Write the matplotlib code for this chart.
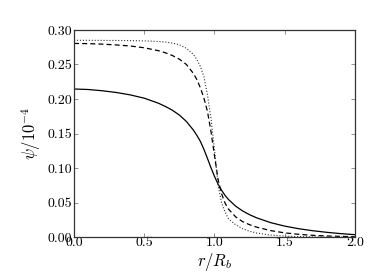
import numpy as np
import matplotlib
matplotlib.use("Agg")
import matplotlib.pyplot as plt

plt.rcParams['font.family'] = 'serif'
plt.rcParams['font.serif'] = ['cmr10']
plt.rcParams['mathtext.fontset'] = 'cm'
plt.rcParams['axes.formatter.use_mathtext'] = True

# radius in units of R_b
r = [0, 0.1, 0.2, 0.3, 0.4, 0.5, 0.6, 0.65, 0.7, 0.75, 0.8, 0.85, 0.875,
     0.9, 0.925, 0.95, 0.975, 1.0, 1.025, 1.05, 1.075, 1.1, 1.15, 1.2, 1.25,
     1.3, 1.4, 1.5, 1.6, 1.7, 1.8, 1.9, 2.0]

psi_solid = [0.2145, 0.2138, 0.2120, 0.2095, 0.2060, 0.2012, 0.1940, 0.1893,
             0.1838, 0.1768, 0.1675, 0.1550, 0.1472, 0.1385, 0.1270, 0.1140,
             0.1005, 0.0880, 0.0770, 0.0680, 0.0605, 0.0545, 0.0450, 0.0380,
             0.0325, 0.0280, 0.0210, 0.0160, 0.0122, 0.0093, 0.0070, 0.0051,
             0.0036]
psi_dashed = [0.2805, 0.2802, 0.2795, 0.2783, 0.2768, 0.2742, 0.2700, 0.2670,
              0.2630, 0.2577, 0.2500, 0.2370, 0.2280, 0.2160, 0.2010, 0.1820,
              0.1530, 0.1180, 0.0840, 0.0630, 0.0495, 0.0405, 0.0295, 0.0225,
              0.0180, 0.0145, 0.0095, 0.0062, 0.0041, 0.0027, 0.0017, 0.0011,
              0.0006]
psi_dotted = [0.2850, 0.2850, 0.2849, 0.2848, 0.2846, 0.2842, 0.2833, 0.2825,
              0.2810, 0.2785, 0.2735, 0.2645, 0.2570, 0.2470, 0.2320, 0.2060,
              0.1720, 0.1270, 0.0760, 0.0500, 0.0365, 0.0265, 0.0180, 0.0122,
              0.0085, 0.0060, 0.0030, 0.0015, 0.0008, 0.0004, 0.0002, 0.0001,
              0.0000]

xticks = [0.0, 0.5, 1.0, 1.5, 2.0]
yticks = [0.00, 0.05, 0.10, 0.15, 0.20, 0.25, 0.30]

fig = plt.figure(figsize=(3.74, 2.8), dpi=100)
ax = fig.add_axes([0.198, 0.153, 0.751, 0.740])

ax.plot(r, psi_solid, '-', color='k', lw=0.9)
ax.plot(r, psi_dashed, '--', color='k', lw=0.9, dashes=(4, 2.5))
ax.plot(r, psi_dotted, ':', color='0.2', lw=0.8)

ax.set_xlim(0, 2)
ax.set_ylim(0, 0.30)
ax.set_xticks(xticks)
ax.set_yticks(yticks)
ax.set_xticklabels(['%.1f' % v for v in xticks])
ax.set_yticklabels(['%.2f' % v for v in yticks])
ax.tick_params(direction='in', top=True, right=True, length=3, width=0.5,
               color='0.4', labelsize=10)
ax.tick_params(axis='x', pad=-0.5)
ax.tick_params(axis='y', pad=1.5)
for s in ax.spines.values():
    s.set_linewidth(0.9)
    s.set_color('0.2')

ax.set_xlabel(r'$r/R_b$', fontsize=12, labelpad=2)
ax.set_ylabel(r'$\psi/10^{-4}$', fontsize=12, labelpad=3)

fig.savefig('out.png', dpi=100)
